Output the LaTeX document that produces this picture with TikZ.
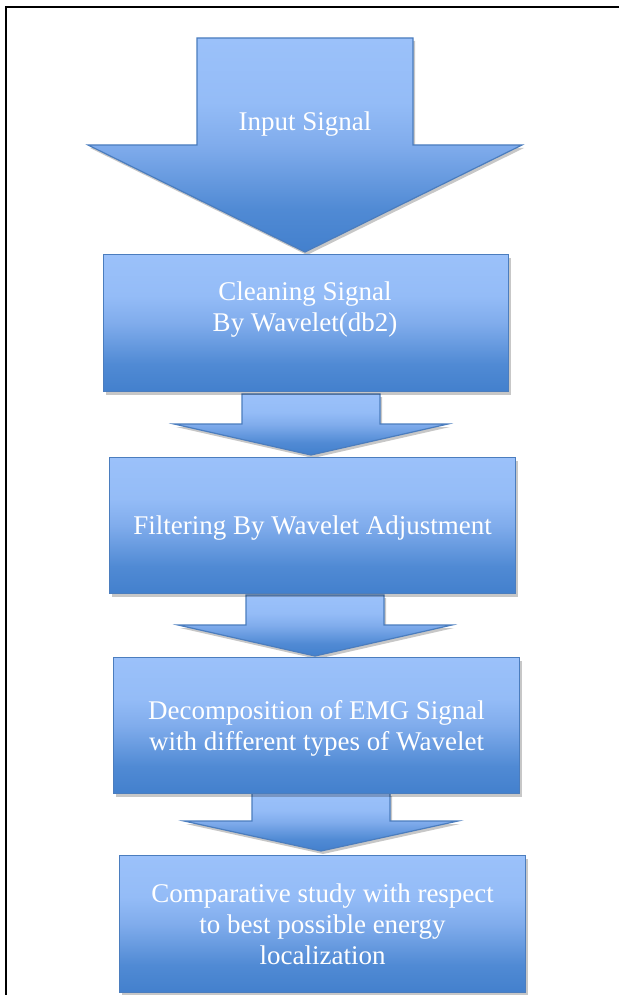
\documentclass[tikz,border=0pt]{standalone}
\usepackage{fontspec}
\setmainfont{Liberation Serif}
\usetikzlibrary{shadows}
\definecolor{lt}{RGB}{155,193,250}
\definecolor{lt2}{RGB}{148,188,247}
\definecolor{md}{RGB}{128,172,236}
\definecolor{dk2}{RGB}{80,138,212}
\definecolor{dk}{RGB}{67,128,205}
\definecolor{edge}{RGB}{75,125,190}
\pgfdeclareverticalshading{office}{100bp}{color(0bp)=(dk); color(25bp)=(dk); color(35bp)=(dk2); color(50bp)=(md); color(60bp)=(lt2); color(75bp)=(lt); color(100bp)=(lt)}
\begin{document}
\begin{tikzpicture}[x=1pt,y=-1pt,
  blk/.style={draw=edge, line width=1.2pt, shading=office,
    drop shadow={shadow xshift=2pt,shadow yshift=-3pt,opacity=0.22,fill=black}},
  boxnode/.style={blk, inner sep=0pt, anchor=north west},
  txt/.style={text=white, font=\fontsize{27}{31}\selectfont, align=center, inner sep=0pt}]
\useasboundingbox (0,0) rectangle (619,995);
\fill[white] (0,0) rectangle (619,995);
\draw[line width=2pt] (619,7.5) -- (5.5,7.5) -- (5.5,996);
% big input arrow
\path[blk] (197,38) -- (413,38) -- (413,145) -- (522,145) -- (305,252) -- (88,145) -- (197,145) -- cycle;
\node[txt] (t0) at (305,124) {Input Signal};
% arrows between boxes
\path[blk] (242,394) -- (380,394) -- (380,424) -- (448,424) -- (311,455) -- (174,424) -- (242,424) -- cycle;
\path[blk] (246,595) -- (384,595) -- (384,625) -- (452,625) -- (315,656) -- (178,625) -- (246,625) -- cycle;
\path[blk] (252,793) -- (390,793) -- (390,821) -- (458,821) -- (321,851) -- (184,821) -- (252,821) -- cycle;
% boxes
\node[boxnode, minimum width=405pt, minimum height=137pt] (b1) at (103,254) {};
\node[txt] (t1) at (305,310) {Cleaning Signal\\By Wavelet(db2)};
\node[boxnode, minimum width=406pt, minimum height=136pt] (b2) at (109,457) {};
\node[txt] (t2) at ([yshift=-2pt]b2.center) {Filtering By Wavelet Adjustment};
\node[boxnode, minimum width=406pt, minimum height=136pt] (b3) at (113,657) {};
\node[txt] (t3) at ([yshift=-3pt]b3.center) {Decomposition of EMG Signal\\with different types of Wavelet};
\node[boxnode, minimum width=406pt, minimum height=137pt] (b4) at (119,855) {};
\node[txt] (t4) at (b4.center) {Comparative study with respect\\to best possible energy\\localization};
\end{tikzpicture}
\end{document}
